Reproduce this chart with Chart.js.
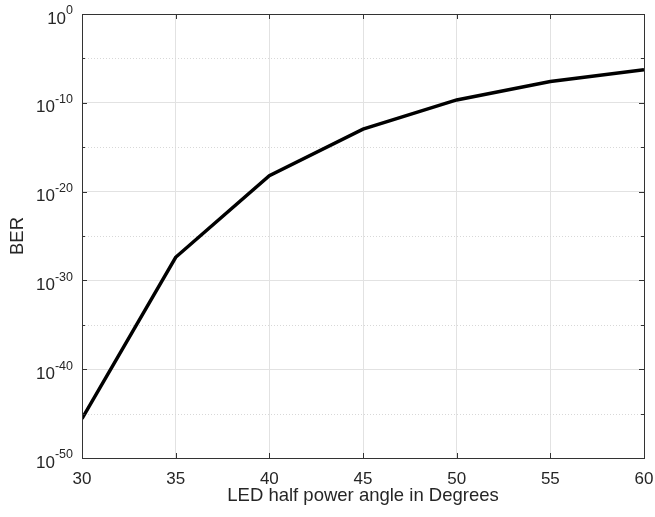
<!DOCTYPE html>
<html>
<head>
<meta charset="utf-8">
<script src="https://cdn.jsdelivr.net/npm/chart.js@4/dist/chart.umd.min.js"></script>
<style>
  html, body { margin: 0; padding: 0; background: #fff; }
  canvas { display: block; }
</style>
</head>
<body>
<canvas id="chart" width="655" height="517"></canvas>
<script>
// LED half power angle (degrees) vs bit error rate
const ANGLES = [30, 35, 40, 45, 50, 55, 60];
const BER = [2.7e-46, 4.0e-28, 6.3e-19, 1.1e-13, 2.1e-10, 2.5e-8, 5.4e-7];

// decade exponents used for the y axis
const Y_MAJOR_EXP = [0, -10, -20, -30, -40, -50];
const Y_MINOR_EXP = [-5, -15, -25, -35, -45];

const TEXT = '#262626';
const AXIS = '#333333';
const GRID = '#e2e2e2';
const FONT = "'Liberation Sans', Arial, Helvetica, sans-serif";

const expOf = v => Math.round(Math.log10(v));

// MATLAB-ish axes: box, inward ticks, dotted minor grid, 10^n labels
const matlabAxes = {
    id: 'matlabAxes',
    beforeDatasetsDraw(chart) {
        const { ctx, chartArea: a, scales: { y } } = chart;
        ctx.save();
        ctx.strokeStyle = '#d8d8d8';
        ctx.lineWidth = 1;
        ctx.setLineDash([1, 2]);
        Y_MINOR_EXP.forEach(e => {
            const py = Math.round(y.getPixelForValue(Math.pow(10, e))) + 0.5;
            ctx.beginPath();
            ctx.moveTo(a.left, py);
            ctx.lineTo(a.right, py);
            ctx.stroke();
        });
        ctx.restore();
    },
    afterDraw(chart) {
        const { ctx, chartArea: a, scales: { x, y } } = chart;
        ctx.save();
        ctx.strokeStyle = AXIS;
        ctx.lineWidth = 1;
        ctx.strokeRect(Math.round(a.left) + 0.5, Math.round(a.top) + 0.5,
            Math.round(a.right - a.left), Math.round(a.bottom - a.top));

        // x ticks, bottom and top
        ctx.beginPath();
        ANGLES.forEach(v => {
            const px = Math.round(x.getPixelForValue(v)) + 0.5;
            ctx.moveTo(px, a.bottom); ctx.lineTo(px, a.bottom - 5);
            ctx.moveTo(px, a.top); ctx.lineTo(px, a.top + 5);
        });
        // y ticks, left and right
        Y_MAJOR_EXP.concat(Y_MINOR_EXP).forEach(e => {
            const py = Math.round(y.getPixelForValue(Math.pow(10, e))) + 0.5;
            const len = e % 10 === 0 ? 5 : 3;
            ctx.moveTo(a.left, py); ctx.lineTo(a.left + len, py);
            ctx.moveTo(a.right, py); ctx.lineTo(a.right - len, py);
        });
        ctx.stroke();

        // y labels as 10 with superscript exponent
        ctx.fillStyle = TEXT;
        ctx.textBaseline = 'middle';
        ctx.textAlign = 'left';
        const right = a.left - 9;
        Y_MAJOR_EXP.forEach(e => {
            const py = y.getPixelForValue(Math.pow(10, e));
            const sup = String(e);
            ctx.font = '12.5px ' + FONT;
            const wSup = ctx.measureText(sup).width;
            ctx.font = '17px ' + FONT;
            const wBase = ctx.measureText('10').width;
            const x0 = right - wSup - wBase;
            ctx.fillText('10', x0, py + 5);
            ctx.font = '12.5px ' + FONT;
            ctx.fillText(sup, x0 + wBase, py - 3);
        });
        ctx.restore();
    },
};

new Chart(document.getElementById('chart'), {
    type: 'line',
    data: {
        datasets: [{
            data: ANGLES.map((a, i) => ({ x: a, y: BER[i] })),
            borderColor: '#000',
            borderWidth: 3.5,
            pointRadius: 0,
            tension: 0,
            fill: false,
        }],
    },
    options: {
        responsive: false,
        animation: false,
        layout: { padding: { top: 14, right: 11, left: 0, bottom: 0 } },
        plugins: { legend: { display: false }, tooltip: { enabled: false } },
        scales: {
            x: {
                type: 'linear',
                min: 30,
                max: 60,
                afterBuildTicks: s => { s.ticks = ANGLES.map(v => ({ value: v })); },
                afterFit: s => { s.height = 59; s.paddingLeft = 0; s.paddingRight = 0; },
                ticks: {
                    color: TEXT,
                    font: { family: FONT, size: 17 },
                    padding: 11,
                    maxRotation: 0,
                },
                grid: { color: GRID, drawTicks: false },
                border: { display: false },
                title: {
                    display: true,
                    text: 'LED half power angle in Degrees',
                    color: TEXT,
                    font: { family: FONT, size: 18.5 },
                    padding: { top: 4, bottom: 10 },
                },
            },
            y: {
                type: 'logarithmic',
                min: 1e-50,
                max: 1,
                afterBuildTicks: s => {
                    s.ticks = Y_MAJOR_EXP.map(e => ({ value: Math.pow(10, e) }));
                },
                afterFit: s => { s.width = 82; s.paddingTop = 0; s.paddingBottom = 0; },
                ticks: { display: false },
                grid: {
                    color: c => (c.tick && expOf(c.tick.value) % 10 === 0) ? GRID : 'rgba(0,0,0,0)',
                    drawTicks: false,
                },
                border: { display: false },
                title: {
                    display: true,
                    text: 'BER',
                    color: TEXT,
                    font: { family: FONT, size: 18.5 },
                    padding: { top: 7, bottom: 0 },
                },
            },
        },
    },
    plugins: [matlabAxes],
});
</script>
</body>
</html>
